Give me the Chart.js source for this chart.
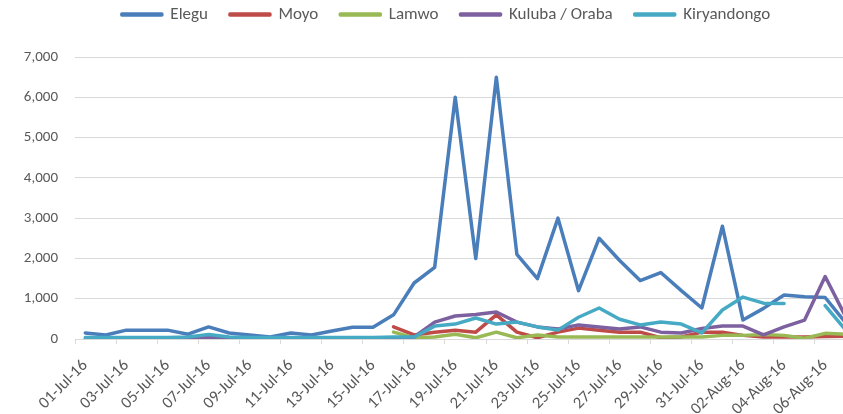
<!DOCTYPE html>
<html>
<head>
<meta charset="utf-8">
<script src="https://cdn.jsdelivr.net/npm/chart.js@4.4.1/dist/chart.umd.min.js"></script>
<style>
    html, body { margin: 0; padding: 0; background: #fff; }
    .wrap { width: 843px; height: 414px; overflow: hidden; }
</style>
</head>
<body>
<div class="wrap"><canvas id="crossings" width="856" height="414"></canvas></div>
<script>
let dates = ["01-Jul-16", "02-Jul-16", "03-Jul-16", "04-Jul-16", "05-Jul-16", "06-Jul-16", "07-Jul-16", "08-Jul-16",
    "09-Jul-16", "10-Jul-16", "11-Jul-16", "12-Jul-16", "13-Jul-16", "14-Jul-16", "15-Jul-16", "16-Jul-16",
    "17-Jul-16", "18-Jul-16", "19-Jul-16", "20-Jul-16", "21-Jul-16", "22-Jul-16", "23-Jul-16", "24-Jul-16",
    "25-Jul-16", "26-Jul-16", "27-Jul-16", "28-Jul-16", "29-Jul-16", "30-Jul-16", "31-Jul-16", "01-Aug-16",
    "02-Aug-16", "03-Aug-16", "04-Aug-16", "05-Aug-16", "06-Aug-16", "07-Aug-16"]

let elegu = [150, 100, 220, 220, 220, 120, 300, 150, 100, 50, 150, 100, 200, 290, 290, 600,
    1390, 1780, 6000, 2000, 6500, 2100, 1500, 3000, 1200, 2500, 1950, 1450, 1650, 1200, 770, 2800,
    470, 760, 1090, 1050, 1030, 400]
let moyo = [null, null, null, null, null, null, null, null, null, null, null, null, null, null, null, 300,
    100, 170, 220, 170, 600, 170, 30, 170, 270, 220, 170, 170, 30, 50, 170, 170,
    90, 50, 50, 50, 60, 70]
let lamwo = [null, null, null, null, null, null, null, null, null, null, null, null, null, null, null, 170,
    30, 50, 120, 30, 170, 30, 100, 50, 50, 50, 50, 50, 50, 50, 50, 90,
    90, 110, 90, 20, 140, 120]
let kuluba = [0, 0, 0, 0, 0, 10, 40, 10, 0, 0, 0, 0, 0, 0, 0, 0,
    50, 420, 570, 610, 670, 420, 300, 250, 350, 300, 250, 300, 170, 150, 260, 320,
    320, 100, 300, 470, 1550, 550]
let kiryandongo = [40, 40, 40, 40, 40, 50, 110, 50, 40, 40, 40, 40, 40, 40, 40, 50,
    50, 320, 370, 520, 370, 420, 300, 220, 540, 770, 490, 350, 420, 370, 150, 720,
    1040, 890, 880, null, 830, 220]

let seriesNames = ["Elegu", "Moyo", "Lamwo", "Kuluba / Oraba", "Kiryandongo"]
let seriesColors = ["#4A7EBB", "#BE4B48", "#98B954", "#7D60A0", "#46AAC5"]
let yTicks = [0, 1000, 2000, 3000, 4000, 5000, 6000, 7000]

let fontFamily = "Carlito, Lato, 'Liberation Sans', sans-serif"
let numFormat = new Intl.NumberFormat("en-US")

let makeSet = (i, values) => {
    return {
        label: seriesNames[i],
        data: values,
        borderColor: seriesColors[i],
        backgroundColor: seriesColors[i],
        borderWidth: 3.5,
        borderJoinStyle: 'round',
        borderCapStyle: 'round',
        pointRadius: 0,
        tension: 0,
        fill: false,
        spanGaps: false,
        // later series sit on top, like the original
        order: seriesNames.length - i
    }
}

// nudge the legend up and a bit right, the chart area stays where it is
let legendShift = {
    id: 'legendShift',
    afterLayout: (chart) => {
        let lg = chart.legend
        lg.top -= 24
        lg.bottom -= 24
        lg.left += 18
        lg.right += 18
    }
}

let chart = new Chart("crossings", {
    type: 'line',
    data: {
        labels: dates,
        datasets: [
            makeSet(0, elegu),
            makeSet(1, moyo),
            makeSet(2, lamwo),
            makeSet(3, kuluba),
            makeSet(4, kiryandongo)
        ]
    },
    plugins: [legendShift],
    options: {
        responsive: false,
        animation: false,
        devicePixelRatio: 1,
        layout: {
            padding: { left: 0, top: 8, right: 0, bottom: 0 }
        },
        plugins: {
            tooltip: { enabled: false },
            legend: {
                position: 'top',
                labels: {
                    color: '#595959',
                    font: { family: fontFamily, size: 17 },
                    boxWidth: 40,
                    boxHeight: 1,
                    padding: 22,
                    sort: (a, b) => a.datasetIndex - b.datasetIndex
                }
            }
        },
        scales: {
            x: {
                offset: true,
                border: { display: true, color: '#d9d9d9' },
                grid: {
                    offset: true,
                    drawOnChartArea: false,
                    drawTicks: true,
                    tickLength: 5,
                    color: (c) => c.index % 2 == 0 ? '#d9d9d9' : 'rgba(0,0,0,0)'
                },
                ticks: {
                    autoSkip: false,
                    minRotation: 45,
                    maxRotation: 45,
                    color: '#595959',
                    font: { family: fontFamily, size: 16.5 },
                    padding: 12,
                    callback: function (value, index) {
                        return index % 2 == 0 ? this.getLabelForValue(value) : ''
                    }
                },
                afterFit: (scale) => {
                    scale.height = 75
                    scale.paddingLeft = 0
                    scale.paddingRight = 0
                }
            },
            y: {
                min: 0,
                max: 7000,
                border: { display: false },
                grid: { color: '#d9d9d9', drawTicks: false },
                afterBuildTicks: (scale) => {
                    scale.ticks = yTicks.map(v => ({ value: v }))
                },
                ticks: {
                    color: '#595959',
                    font: { family: fontFamily, size: 15 },
                    padding: 17,
                    callback: (value) => numFormat.format(value)
                },
                afterFit: (scale) => { scale.width = 75 }
            }
        }
    }
})
</script>
</body>
</html>
